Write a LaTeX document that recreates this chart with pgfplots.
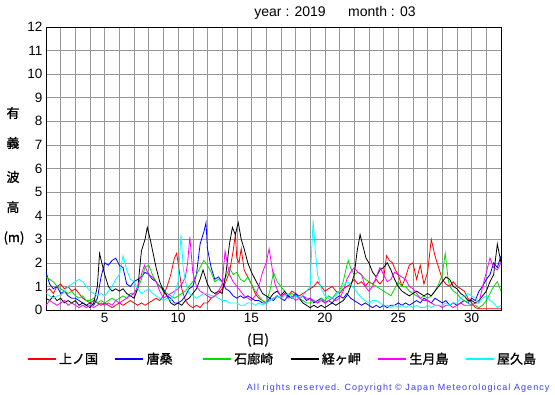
\documentclass[border=0pt]{standalone}
\usepackage{pgfplots}
\pgfplotsset{compat=1.18}
\usepackage{fontspec}
\setmainfont{Liberation Sans}
\newfontfamily\jp[FakeBold=1.2]{Noto Sans CJK JP}
\definecolor{cgreen}{RGB}{0,220,0}
\definecolor{ccyan}{RGB}{0,255,255}
\definecolor{cmag}{RGB}{255,0,255}
\definecolor{copy}{RGB}{60,60,255}
\definecolor{gridc}{RGB}{150,150,150}
\begin{document}
\begin{tikzpicture}
\path[use as bounding box] (-46pt,-85pt) rectangle (509pt,310pt);
\begin{axis}[
  scale only axis, width=455pt, height=283pt,
  xmin=1, xmax=32, ymin=0, ymax=12,
  xtick={5,10,15,20,25,30},
  minor xtick={1,...,32},
  ytick={0,1,...,12},
  grid=both,
  major grid style={gridc, line width=0.5pt},
  minor grid style={gridc, line width=0.5pt},
  major tick length=0pt, minor tick length=0pt,
  axis line style={black, line width=0.9pt},
  tick label style={font=\fontsize{13.5}{14}\selectfont},
  /pgf/number format/assume math mode=true,
  legend columns=6,
  legend style={at={(-0.05,-0.173)}, anchor=west, draw=none, fill=none,
    font=\jp\fontsize{13}{13}\selectfont, cells={anchor=west},
    /tikz/every even column/.append style={column sep=0pt}},
  legend image code/.code={\draw[line width=2.6pt,#1] (0pt,0pt) -- (28pt,0pt);},
  every axis plot/.append style={line width=0.8pt},
]
\addplot[red] coordinates {(1,0.8) (1.25,0.9) (1.5,0.7) (1.75,1.0) (2,1.1) (2.25,0.9) (2.5,1.0) (2.75,0.8) (3,0.9) (3.25,0.7) (3.5,0.5) (3.75,0.4) (4,0.3) (4.25,0.4) (4.5,0.3) (4.75,0.2) (5,0.3) (5.25,0.2) (5.5,0.1) (5.75,0.2) (6,0.3) (6.25,0.2) (6.5,0.3) (6.75,0.4) (7,0.3) (7.25,0.2) (7.5,0.3) (7.75,0.2) (8,0.3) (8.25,0.4) (8.5,0.5) (8.75,0.4) (9,0.6) (9.25,1.0) (9.5,1.5) (9.75,2.2) (9.9,2.4) (10,2.0) (10.25,0.9) (10.5,0.4) (10.75,0.2) (11,0.1) (11.25,0.2) (11.5,0.1) (11.75,0.3) (12,0.3) (12.25,0.5) (12.5,0.6) (12.75,0.7) (13,0.9) (13.25,1.2) (13.5,1.6) (13.75,2.5) (13.9,3.2) (14,2.2) (14.15,2.0) (14.3,2.6) (14.5,1.7) (14.75,1.4) (15,1.1) (15.25,0.7) (15.5,0.5) (15.75,0.4) (16,0.3) (16.25,0.4) (16.5,0.5) (16.75,0.6) (17,0.5) (17.25,0.7) (17.5,0.6) (17.75,0.8) (18,0.7) (18.25,0.6) (18.5,0.7) (18.75,0.8) (19,0.9) (19.25,1.0) (19.5,1.2) (19.75,1.0) (20,0.8) (20.25,0.9) (20.5,1.0) (20.75,0.8) (21,0.7) (21.25,0.9) (21.5,1.0) (21.75,1.1) (22,1.3) (22.25,1.1) (22.5,1.2) (22.75,1.0) (23,1.2) (23.25,1.1) (23.5,1.3) (23.75,1.1) (24,1.3) (24.2,2.3) (24.4,2.1) (24.6,2.0) (24.8,1.7) (25,1.5) (25.25,1.0) (25.5,1.4) (25.75,1.9) (26,2.0) (26.25,1.3) (26.5,1.9) (26.75,1.1) (27,1.6) (27.25,3.0) (27.5,2.3) (27.75,1.8) (28,1.3) (28.25,1.1) (28.5,1.0) (28.75,1.2) (29,1.0) (29.25,0.9) (29.5,0.8) (29.75,0.5) (30,0.3) (30.25,0.1) (30.5,0.05) (30.75,0.05) (31,0.05) (31.5,0.05) (32,0.05)};
\addplot[blue] coordinates {(1,1.6) (1.25,1.1) (1.5,0.9) (1.75,1.0) (2,0.7) (2.25,0.8) (2.5,0.6) (2.75,0.5) (3,0.5) (3.25,0.4) (3.5,0.3) (3.75,0.2) (4,0.3) (4.25,0.2) (4.5,0.5) (4.75,1.4) (5,2.0) (5.25,1.9) (5.5,2.1) (5.75,2.2) (6,1.9) (6.25,1.8) (6.5,1.1) (6.75,1.0) (7,1.2) (7.25,1.3) (7.5,1.4) (7.75,1.6) (8,1.5) (8.25,1.3) (8.5,1.2) (8.75,1.0) (9,0.9) (9.25,0.6) (9.5,0.5) (9.75,0.3) (10,0.3) (10.25,0.4) (10.5,0.6) (10.75,0.9) (11,1.0) (11.25,1.5) (11.5,2.8) (11.75,3.3) (11.9,3.7) (12,2.6) (12.25,1.8) (12.5,1.3) (12.75,1.4) (13,1.2) (13.25,0.9) (13.5,0.8) (13.75,0.6) (14,0.5) (14.25,0.6) (14.5,0.5) (14.75,0.6) (15,0.5) (15.25,0.4) (15.5,0.4) (15.75,0.3) (16,0.3) (16.25,0.5) (16.5,0.4) (16.75,0.6) (17,0.5) (17.25,0.4) (17.5,0.6) (17.75,0.5) (18,0.7) (18.25,0.5) (18.5,0.6) (18.75,0.4) (19,0.5) (19.25,0.3) (19.5,0.4) (19.75,0.5) (20,0.3) (20.25,0.4) (20.5,0.3) (20.75,0.5) (21,0.6) (21.25,0.5) (21.5,0.7) (21.75,0.5) (22,0.4) (22.25,0.3) (22.5,0.2) (22.75,0.3) (23,0.2) (23.25,0.1) (23.5,0.2) (23.75,0.1) (24,0.2) (24.25,0.1) (24.5,0.2) (24.75,0.2) (25,0.3) (25.25,0.2) (25.5,0.3) (25.75,0.2) (26,0.3) (26.25,0.4) (26.5,0.3) (26.75,0.5) (27,0.4) (27.25,0.3) (27.5,0.5) (27.75,0.4) (28,0.3) (28.25,0.4) (28.5,0.2) (28.75,0.3) (29,0.2) (29.25,0.3) (29.5,0.4) (29.75,0.3) (30,0.5) (30.25,0.4) (30.5,0.8) (30.75,1.0) (31,1.3) (31.25,1.5) (31.5,2.0) (31.75,1.8) (32,2.3)};
\addplot[cgreen] coordinates {(1,1.4) (1.25,1.3) (1.5,1.2) (1.75,1.0) (2,0.9) (2.25,0.8) (2.5,0.7) (2.75,0.8) (3,0.6) (3.25,0.5) (3.5,0.6) (3.75,0.4) (4,0.4) (4.25,0.5) (4.5,0.3) (4.75,0.4) (5,0.3) (5.25,0.4) (5.5,0.5) (5.75,0.4) (6,0.5) (6.25,0.6) (6.5,0.5) (6.75,0.7) (7,0.7) (7.25,0.9) (7.5,1.3) (7.75,1.8) (8,1.9) (8.25,1.5) (8.5,1.2) (8.75,1.0) (9,0.8) (9.25,0.7) (9.5,0.6) (9.75,0.5) (10,0.6) (10.25,0.7) (10.5,0.8) (10.75,1.0) (11,1.2) (11.25,1.5) (11.5,1.8) (11.75,2.1) (12,1.9) (12.25,1.6) (12.5,1.2) (12.75,1.3) (13,1.2) (13.25,1.4) (13.5,1.8) (13.75,1.5) (14,1.6) (14.25,1.3) (14.5,1.2) (14.75,1.4) (15,1.1) (15.25,0.8) (15.5,0.6) (15.75,0.4) (16,0.3) (16.25,0.8) (16.5,1.6) (16.75,1.2) (17,1.0) (17.25,0.8) (17.5,0.6) (17.75,0.7) (18,0.6) (18.25,0.5) (18.5,0.4) (18.75,0.3) (19,0.3) (19.25,0.4) (19.5,0.3) (19.75,0.5) (20,0.4) (20.25,0.6) (20.5,0.5) (20.75,0.7) (21,0.8) (21.25,1.2) (21.5,1.9) (21.6,2.1) (21.75,1.8) (22,1.5) (22.25,1.6) (22.5,1.5) (22.75,1.3) (23,1.2) (23.25,1.1) (23.5,1.0) (23.75,0.9) (24,0.8) (24.25,0.7) (24.5,0.6) (24.75,0.9) (25,1.2) (25.25,1.0) (25.5,1.0) (25.75,0.8) (26,0.7) (26.25,0.6) (26.5,0.5) (26.75,0.6) (27,0.5) (27.25,0.6) (27.5,0.8) (27.75,1.1) (28,1.5) (28.2,2.4) (28.4,1.3) (28.5,1.0) (28.75,0.8) (29,0.7) (29.25,0.5) (29.5,0.4) (29.75,0.3) (30,0.2) (30.25,0.2) (30.5,0.1) (30.75,0.2) (31,0.4) (31.25,0.7) (31.5,1.0) (31.75,1.2) (32,0.8)};
\addplot[black] coordinates {(1,0.5) (1.25,0.4) (1.5,0.6) (1.75,0.4) (2,0.5) (2.25,0.3) (2.5,0.4) (2.75,0.3) (3,0.4) (3.25,0.2) (3.5,0.3) (3.75,0.2) (4,0.1) (4.25,0.3) (4.5,1.0) (4.65,2.4) (4.8,2.0) (5,1.5) (5.25,1.0) (5.5,0.8) (5.75,0.9) (6,0.8) (6.25,0.9) (6.5,0.7) (6.75,0.6) (7,0.5) (7.25,0.9) (7.5,2.5) (7.75,3.0) (7.9,3.5) (8.1,3.0) (8.3,2.4) (8.5,1.8) (8.75,1.2) (9,0.8) (9.25,0.6) (9.5,0.3) (9.75,0.2) (10,0.3) (10.25,0.2) (10.5,0.4) (10.75,0.5) (11,0.7) (11.25,0.9) (11.5,1.3) (11.7,1.7) (12,1.1) (12.25,0.8) (12.5,0.7) (12.75,0.8) (13,0.7) (13.25,1.5) (13.5,2.8) (13.7,3.5) (13.9,3.2) (14.1,3.7) (14.3,3.0) (14.5,2.6) (14.75,2.0) (15,1.6) (15.25,1.3) (15.5,1.0) (15.75,0.7) (16,0.6) (16.25,0.5) (16.5,0.7) (16.75,0.8) (17,0.6) (17.25,0.8) (17.5,0.6) (17.75,0.5) (18,0.6) (18.25,0.5) (18.5,0.3) (18.75,0.2) (19,0.1) (19.25,0.2) (19.5,0.1) (19.75,0.2) (20,0.1) (20.25,0.2) (20.5,0.3) (20.75,0.2) (21,0.3) (21.25,0.4) (21.5,0.6) (21.75,1.0) (22,1.5) (22.2,2.5) (22.4,3.2) (22.6,2.7) (22.8,2.2) (23,2.0) (23.25,1.6) (23.5,1.4) (23.75,1.7) (24,1.8) (24.25,2.0) (24.5,1.7) (24.75,1.3) (25,1.0) (25.25,0.8) (25.5,0.7) (25.75,0.6) (26,0.7) (26.25,0.8) (26.5,0.7) (26.75,0.6) (27,0.7) (27.25,0.6) (27.5,0.8) (27.75,1.0) (28,1.2) (28.25,1.4) (28.5,1.3) (28.75,1.0) (29,0.9) (29.25,0.7) (29.5,0.6) (29.75,0.4) (30,0.4) (30.25,0.3) (30.5,0.4) (30.75,0.6) (31,0.8) (31.25,1.2) (31.5,1.5) (31.75,2.8) (32,2.0)};
\addplot[cmag] coordinates {(1,0.2) (1.25,0.4) (1.5,0.3) (1.75,0.2) (2,0.3) (2.25,0.4) (2.5,0.2) (2.75,0.3) (3,0.2) (3.25,0.1) (3.5,0.2) (3.75,0.1) (4,0.2) (4.25,0.1) (4.5,0.2) (4.75,0.3) (5,0.2) (5.25,0.3) (5.5,0.2) (5.75,0.4) (6,0.3) (6.25,0.4) (6.5,0.5) (6.75,0.6) (7,0.7) (7.25,1.0) (7.5,1.5) (7.7,1.9) (8,1.5) (8.25,1.4) (8.5,1.2) (8.75,0.8) (9,0.5) (9.25,0.6) (9.5,0.7) (9.75,0.8) (10,0.9) (10.25,1.1) (10.5,1.4) (10.65,2.0) (10.8,3.1) (11,1.6) (11.25,1.0) (11.5,0.8) (11.75,0.7) (12,0.6) (12.25,0.5) (12.5,0.6) (12.75,0.8) (13,1.1) (13.2,2.5) (13.35,2.0) (13.5,1.5) (13.75,1.2) (14,1.0) (14.25,0.8) (14.5,0.6) (14.75,0.5) (15,0.4) (15.25,0.6) (15.5,1.0) (15.75,1.6) (16,2.0) (16.2,2.6) (16.4,1.8) (16.6,1.1) (16.8,0.8) (17,0.6) (17.25,0.7) (17.5,0.5) (17.75,0.6) (18,0.4) (18.25,0.5) (18.5,0.6) (18.75,0.5) (19,0.5) (19.25,0.4) (19.5,0.3) (19.75,0.4) (20,0.3) (20.25,0.4) (20.5,0.5) (20.75,0.4) (21,0.5) (21.25,0.8) (21.5,1.3) (21.75,1.6) (22,1.8) (22.25,1.6) (22.5,1.5) (22.75,1.0) (23,0.8) (23.25,1.0) (23.5,1.4) (23.75,1.8) (24,1.5) (24.25,1.2) (24.5,1.3) (24.75,1.6) (25,1.5) (25.25,1.4) (25.5,1.3) (25.75,1.0) (26,0.9) (26.25,0.7) (26.5,0.5) (26.75,0.4) (27,0.4) (27.25,0.3) (27.5,0.2) (27.75,0.2) (28,0.1) (28.25,0.2) (28.5,0.2) (28.75,0.1) (29,0.2) (29.25,0.3) (29.5,0.2) (29.75,0.2) (30,0.2) (30.25,0.3) (30.5,0.3) (30.75,1.0) (31,1.6) (31.25,2.2) (31.5,1.8) (31.75,1.7) (32,2.0)};
\addplot[ccyan] coordinates {(1,0.7) (1.25,0.6) (1.5,0.5) (1.75,0.6) (2,0.6) (2.25,0.8) (2.5,1.0) (2.75,1.1) (3,1.2) (3.25,1.3) (3.5,1.2) (3.75,1.0) (4,0.8) (4.25,0.7) (4.5,0.6) (4.75,0.7) (5,0.6) (5.25,0.8) (5.5,1.0) (5.75,1.3) (6,1.5) (6.25,2.3) (6.5,1.7) (6.75,1.3) (7,1.2) (7.25,0.9) (7.5,0.7) (7.75,0.8) (8,0.9) (8.25,0.7) (8.5,0.6) (8.75,0.5) (9,0.4) (9.25,0.5) (9.5,0.4) (9.75,0.7) (10,1.2) (10.1,2.2) (10.2,3.2) (10.35,1.8) (10.5,1.2) (10.75,0.7) (11,0.6) (11.25,0.5) (11.5,0.6) (11.75,0.7) (12,0.7) (12.25,0.6) (12.5,0.6) (12.75,0.5) (13,0.4) (13.25,0.4) (13.5,0.3) (13.75,0.3) (14,0.3) (14.25,0.2) (14.5,0.2) (14.75,0.3) (15,0.3) (15.25,0.2) (15.5,0.3) (15.75,0.2) (16,0.3) (16.25,0.4) (16.5,0.5) (16.75,0.6) (17,0.5) (17.25,0.6) (17.5,0.7) (17.75,0.5) (18,0.6) (18.25,0.5) (18.5,0.6) (18.75,0.8) (19,1.0) (19.1,2.5) (19.2,3.8) (19.35,2.5) (19.5,1.5) (19.75,0.9) (20,0.6) (20.25,0.5) (20.5,0.5) (20.75,0.6) (21,0.8) (21.25,1.0) (21.5,1.2) (21.75,1.1) (22,0.9) (22.25,0.7) (22.5,0.5) (22.75,0.4) (23,0.3) (23.25,0.4) (23.5,0.4) (23.75,0.3) (24,0.2) (24.25,0.2) (24.5,0.1) (24.75,0.2) (25,0.1) (25.25,0.2) (25.5,0.1) (25.75,0.2) (26,0.1) (26.25,0.2) (26.5,0.1) (26.75,0.1) (27,0.2) (27.25,0.1) (27.5,0.2) (27.75,0.2) (28,0.2) (28.25,0.3) (28.5,0.2) (28.75,0.3) (29,0.3) (29.25,0.5) (29.5,0.6) (29.75,0.7) (30,0.6) (30.25,0.5) (30.5,0.3) (30.75,0.5) (31,0.6) (31.25,0.4) (31.5,0.3) (31.75,0.1) (32,0.2)};
\legend{\makebox[53pt][l]{上ノ国},\makebox[53pt][l]{唐桑},\makebox[53pt][l]{石廊崎},\makebox[53pt][l]{経ヶ岬},\makebox[53pt][l]{生月島},\makebox[40pt][l]{屋久島}}
\end{axis}
\node[font=\fontsize{14}{15}\selectfont] at (289pt,297pt) {year : 2019\hspace{1.6em}month : 03};
\begin{scope}[every node/.style={font=\jp\fontsize{13}{13}\selectfont}]
\node at (-33pt,197pt) {有};
\node at (-33pt,167pt) {義};
\node at (-33pt,133pt) {波};
\node at (-33pt,103pt) {高};
\node at (-32pt,72pt) {(m)};
\node at (212pt,-30pt) {(日)};
\end{scope}
\node[anchor=east, text=copy, font=\fontsize{9}{10}\selectfont\addfontfeatures{LetterSpace=12}] at (507pt,-78pt) {All rights reserved. Copyright \textcopyright\ Japan Meteorological Agency};
\end{tikzpicture}
\end{document}
